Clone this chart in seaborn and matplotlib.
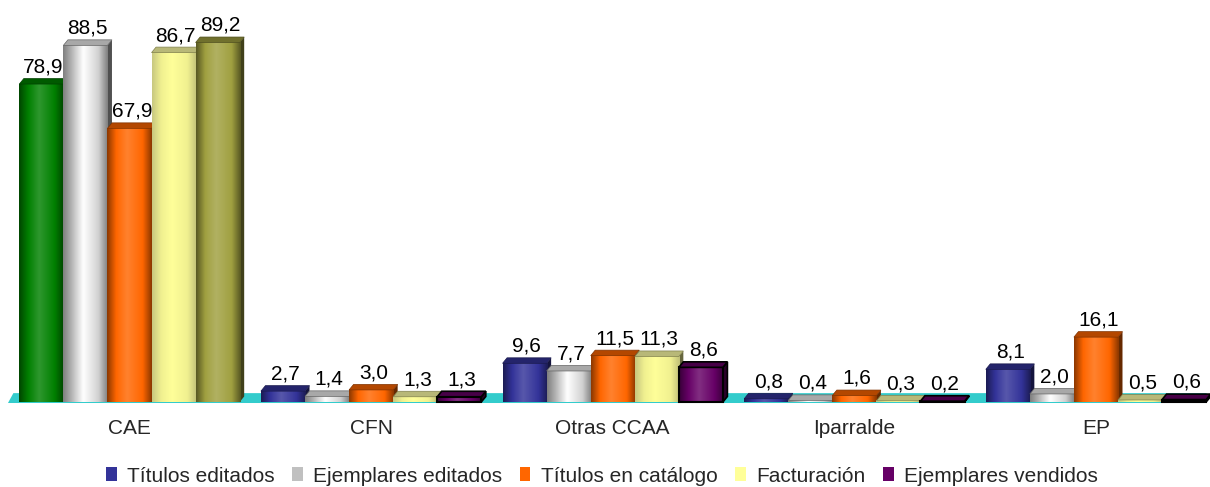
import numpy as np
import pandas as pd
import matplotlib
matplotlib.use("Agg")
import matplotlib.pyplot as plt
import matplotlib.colors as mcolors
from matplotlib.patches import Polygon, Patch, Rectangle
import seaborn as sns

categories = ["CAE", "CFN", "Otras CCAA", "Iparralde", "EP"]
series = ["Títulos editados", "Ejemplares editados", "Títulos en catálogo",
          "Facturación", "Ejemplares vendidos"]
titulos_editados = [78.9, 2.7, 9.6, 0.8, 8.1]
ejemplares_editados = [88.5, 1.4, 7.7, 0.4, 2.0]
titulos_catalogo = [67.9, 3.0, 11.5, 1.6, 16.1]
facturacion = [86.7, 1.3, 11.3, 0.3, 0.5]
ejemplares_vendidos = [89.2, 1.3, 8.6, 0.2, 0.6]
series_colors = ["#333399", "#C8C8C8", "#FF6600", "#FFFF99", "#660066"]
cae_colors = ["#008000", "#C8C8C8", "#FF6600", "#FFFF99", "#A0A040"]

values = [titulos_editados, ejemplares_editados, titulos_catalogo,
          facturacion, ejemplares_vendidos]
df = pd.DataFrame([(c, s, v[i]) for s, v in zip(series, values)
                   for i, c in enumerate(categories)],
                  columns=["cat", "serie", "val"])

sns.set_theme(style="white")
plt.rcParams['font.family'] = ['Liberation Sans', 'DejaVu Sans']

W, H = 1210, 487
fig = plt.figure(figsize=(W / 100, H / 100), dpi=100)
y0px = 402
ax = fig.add_axes([0, (H - y0px) / H, 1, (y0px + 1) / H])
ax.set_facecolor("none")

sns.barplot(data=df, x="cat", y="val", hue="serie", order=categories,
            hue_order=series, palette=series_colors, width=0.912, gap=0,
            saturation=1, legend=False, ax=ax, zorder=2)

XL = (-0.536, 4.472)
YL = (0, 100)
ax.set_xlim(*XL)
ax.set_ylim(*YL)
for s in ax.spines.values():
    s.set_visible(False)
ax.set_yticks([])
ax.set_xlabel("")
ax.set_ylabel("")
ax.tick_params(axis="x", length=0, pad=12, labelsize=15)

pxx = W / (XL[1] - XL[0])
pxy = (y0px + 1) / (YL[1] - YL[0])
dx = 4.5 / pxx
dy = 5.5 / pxy


def mix(c, t, a):
    c = np.array(mcolors.to_rgb(c)); t = np.array(mcolors.to_rgb(t))
    return tuple(c * (1 - a) + t * a)


def gradient_cmap(base):
    if base == "#C8C8C8":
        stops = ["#808080", "#B8B8B8", "#FFFFFF", "#D0D0D0", "#808080"]
    elif base == "#FFFF99":
        stops = ["#C8C880", "#F0F090", "#FFFF99", "#F0F090", "#C0C078"]
    else:
        dark = mix(base, "black", 0.45)
        light = mix(base, "white", 0.18)
        stops = [dark, base, light, base, dark]
    return mcolors.LinearSegmentedColormap.from_list(
        "g", list(zip([0, 0.2, 0.45, 0.8, 1.0], stops)))


patches = [p for p in ax.patches if isinstance(p, Rectangle)]
patches.sort(key=lambda p: p.get_x())

# floor
floor = Polygon([(-0.503, -0.25), (4.44, -0.25), (4.44 + dx, 2.2), (-0.503 + dx * 1.2, 2.2)],
                closed=True, facecolor="#33CCCC", edgecolor="none", zorder=1,
                clip_on=False)
ax.add_patch(floor)

grad = np.linspace(0, 1, 64).reshape(1, -1)
for k, p in enumerate(patches):
    x, w, h = p.get_x(), p.get_width(), p.get_height()
    gi = int(round(x + w / 2))  # group index
    si = k % 5
    base = cae_colors[si] if categories[gi] == "CAE" else series_colors[si]
    outlined = base == "#660066"
    z = 3 + k * 0.01
    p.set_facecolor("none")
    p.set_edgecolor("none")
    # side face
    side_col = mix(base, "black", 0.6)
    ax.add_patch(Polygon([(x + w, 0), (x + w + dx, dy), (x + w + dx, h + dy), (x + w, h)],
                         closed=True, facecolor=side_col,
                         edgecolor="black" if outlined else "none", linewidth=1.2,
                         zorder=z, clip_on=False))
    # front face with gradient
    ax.imshow(grad, cmap=gradient_cmap(base), extent=[x, x + w, 0, h],
              aspect="auto", zorder=z + 0.002, interpolation="bicubic")
    if outlined:
        ax.add_patch(Rectangle((x, 0), w, h, facecolor="none", edgecolor="black",
                               linewidth=1.5, zorder=z + 0.003, clip_on=False))
    # top face
    if base == "#C8C8C8":
        top_col = "#A8A8A8"
    elif base == "#FFFF99":
        top_col = "#B8B878"
    else:
        top_col = mix(base, "black", 0.3)
    ax.add_patch(Polygon([(x, h), (x + dx, h + dy), (x + w + dx, h + dy), (x + w, h)],
                         closed=True, facecolor=top_col,
                         edgecolor="black" if outlined else mix(base, "black", 0.5),
                         linewidth=1.2 if outlined else 0.5, zorder=z + 0.004, clip_on=False))
    lbl = f"{h:.1f}".replace(".", ",")
    ax.annotate(lbl, (x + w / 2 + dx / 2, h + dy), xytext=(0, 1.5),
                textcoords="offset points", ha="center", va="bottom",
                fontsize=15, color="black", zorder=10, annotation_clip=False)

ax.set_xlim(*XL)
ax.set_ylim(*YL)

handles = [Patch(facecolor=c, edgecolor="none") for c in series_colors]
handles[1] = Patch(facecolor="#C0C0C0", edgecolor="none")
fig.legend(handles, series, loc="center", bbox_to_anchor=(602 / W, 1 - 476 / H),
           ncol=5, frameon=False, handlelength=0.5, handleheight=0.62,
           handletextpad=0.5, columnspacing=0.85, borderpad=0,
           prop={"family": ["Liberation Sans"], "size": 15})

fig.savefig("out.png", dpi=100)
